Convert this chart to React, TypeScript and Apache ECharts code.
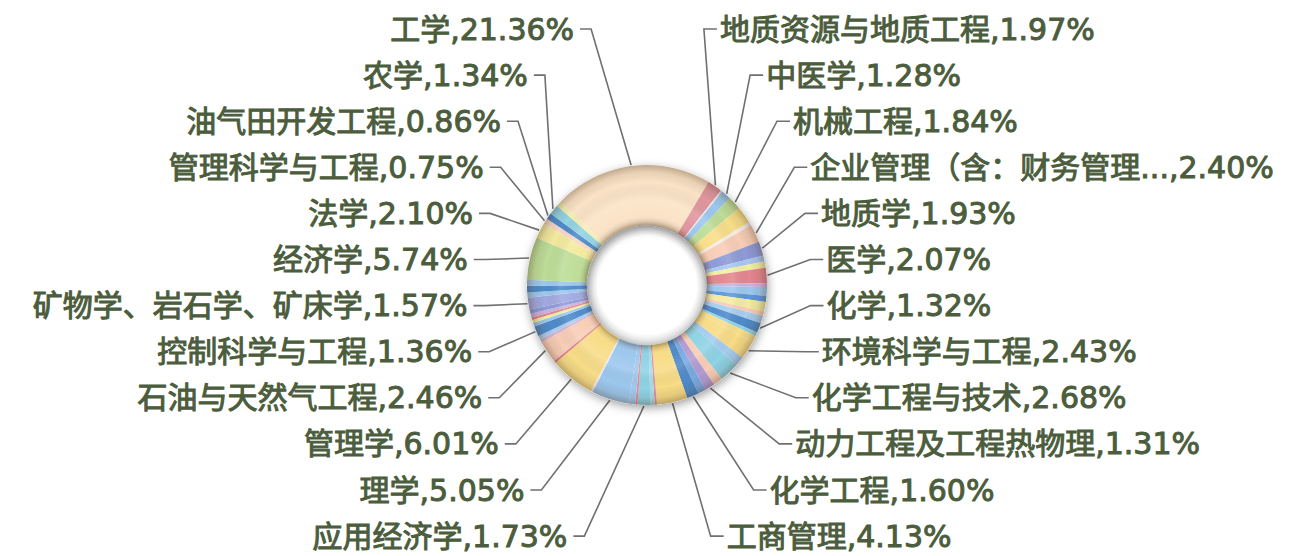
import React, { useEffect, useRef } from 'react';
import * as echarts from 'echarts';

// Slices in clockwise order, starting with 工学 at the upper left.
// Names starting with "其他" are small unlabeled slices.
const categories = [
  '工学', '地质资源与地质工程', '其他1', '中医学', '机械工程', '其他2', '其他3',
  '企业管理（含：财务管理、市场营销、人力资源管理）', '地质学', '其他4', '其他5', '医学',
  '其他6', '其他7', '其他8', '其他9', '其他10', '其他11', '化学', '其他12', '其他13',
  '环境科学与工程', '其他14', '化学工程与技术', '其他15', '动力工程及工程热物理', '其他16',
  '化学工程', '工商管理', '其他17', '其他18', '应用经济学', '其他19', '其他20', '理学',
  '其他21', '管理学', '其他22', '其他23', '石油与天然气工程', '其他24', '其他25',
  '控制科学与工程', '其他26', '其他27', '其他28', '其他29', '其他30', '矿物学、岩石学、矿床学',
  '其他31', '其他32', '其他33', '经济学', '法学', '管理科学与工程', '油气田开发工程', '农学', '其他34',
];

const values = [
  21.36, 1.97, 0.25, 1.28, 1.84, 2.30, 0.50,
  2.40, 1.93, 0.80, 0.84, 2.07,
  0.50, 1.20, 0.80, 1.30, 0.60, 1.00, 1.32, 0.50, 0.94,
  2.43, 1.25, 2.68, 1.28, 1.31, 1.08,
  1.60, 4.13, 0.30, 0.56, 1.73, 0.30, 0.87, 5.05,
  0.28, 6.01, 0.30, 0.56, 2.46, 0.40, 0.52,
  1.36, 0.50, 0.40, 0.36, 0.50, 0.60, 1.57,
  0.70, 0.90, 0.79, 5.74, 2.10, 0.75, 0.86, 1.34, 0.73,
];

const sliceColors = [
  '#FBE3C6', '#E0979E', '#EDE6EE', '#9DC8EE', '#BEDD98', '#F8DE8A', '#F5ECE6',
  '#F8CDB6', '#8E9BD8', '#A9C8F0', '#F2EFA2', '#E4878F',
  '#C9B3DE', '#9DC8EE', '#5E98D8', '#F3EBA2', '#F8CDB6', '#A9CEF0', '#4F8CCB', '#92D4E6', '#F8DE8A',
  '#F8DC86', '#A5CCEF', '#8FD3E5', '#F8CDB6', '#B39BD3', '#7AA9DF',
  '#4F8BC9', '#F8DC86', '#E58E98', '#A6DCEA', '#8FD3E5', '#E58E98', '#A1C9EE', '#9DC8EE',
  '#EFEAF0', '#F8DD88', '#E1808C', '#F8CDB6', '#F8CDB6', '#D6B2D4', '#A9CEF0',
  '#4F8CCB', '#9DC8EE', '#F2EFA2', '#E4878F', '#C9B3DE', '#8E9BD8', '#A2A9E0',
  '#9DC8EE', '#4F8CCB', '#9DC8EE', '#BEDD98', '#F3EA9E', '#F8D8C4', '#4F8CCB', '#93D3E2', '#F4EFB2',
];

const CX = 647;
const CY = 285;
const R_IN = 60;
const R_OUT = 120;
const START_ANGLE = 136; // echarts degrees (counter-clockwise from 3 o'clock)
const TEXT_COLOR = '#4B5D3C';
const FONT = "'DejaVu Sans', 'Noto Sans CJK SC', sans-serif";

const isLabeled = (name: string) => !name.startsWith('其他');
const shortName = (name: string) => (name.length > 11 ? name.slice(0, 11) + '...' : name);

export default function App() {
  const ref = useRef<HTMLDivElement>(null);

  useEffect(() => {
    if (!ref.current) return;
    const chart = echarts.init(ref.current, null, { renderer: 'svg' });

    const total = values.reduce((a, b) => a + b, 0);
    const startTheta = 90 - START_ANGLE; // clockwise from top
    let acc = 0;
    const mids = values.map((v) => {
      const m = startTheta + ((acc + v / 2) / total) * 360;
      acc += v;
      return ((m % 360) + 360) % 360;
    });

    const idx = categories.map((_, i) => i).filter((i) => isLabeled(categories[i]));
    const rightSide = idx.filter((i) => mids[i] < 180).sort((a, b) => mids[a] - mids[b]);
    const leftSide = idx.filter((i) => mids[i] >= 180).sort((a, b) => mids[b] - mids[a]);
    const place: Record<number, { side: number; row: number }> = {};
    rightSide.forEach((i, r) => (place[i] = { side: 1, row: r }));
    leftSide.forEach((i, r) => (place[i] = { side: -1, row: r }));

    const ROW0 = 29;
    const ROW_GAP = 46.1;
    const EA = 180;
    const EB = 280;

    const data = categories.map((name, i) => {
      const show = isLabeled(name);
      return {
        name,
        value: values[i],
        itemStyle: { color: sliceColors[i] },
        label: { show },
        labelLine: { show },
      };
    });

    const ringGradient = {
      type: 'radial', x: 0.5, y: 0.5, r: 0.5,
      colorStops: [
        { offset: 0.5, color: 'rgba(70,45,25,0.40)' },
        { offset: 0.53, color: 'rgba(70,45,25,0.16)' },
        { offset: 0.59, color: 'rgba(255,255,255,0)' },
        { offset: 0.72, color: 'rgba(255,255,255,0.12)' },
        { offset: 0.86, color: 'rgba(0,0,0,0)' },
        { offset: 0.94, color: 'rgba(70,45,25,0.10)' },
        { offset: 1, color: 'rgba(70,45,25,0.32)' },
      ],
    };

    const holeGradient = {
      type: 'radial', x: 0.5, y: 0.5, r: 0.5,
      colorStops: [
        { offset: 0.82, color: 'rgba(0,0,0,0)' },
        { offset: 1, color: 'rgba(0,0,0,0.15)' },
      ],
    };

    const plain = {
      type: 'pie',
      silent: true,
      center: [CX, CY],
      clockwise: true,
      startAngle: START_ANGLE,
      label: { show: false },
      labelLine: { show: false },
      emphasis: { disabled: true },
      animation: false,
    };

    chart.setOption({
      animation: false,
      backgroundColor: '#ffffff',
      series: [
        {
          ...plain,
          radius: [R_IN, R_OUT],
          data: [{ value: 1, itemStyle: { color: '#ffffff', shadowBlur: 10, shadowColor: 'rgba(0,0,0,0.38)', shadowOffsetX: 1, shadowOffsetY: 3 } }],
        },
        {
          type: 'pie',
          center: [CX, CY],
          radius: [R_IN, R_OUT],
          startAngle: START_ANGLE,
          clockwise: true,
          avoidLabelOverlap: false,
          minShowLabelAngle: 0,
          silent: true,
          emphasis: { disabled: true },
          data,
          label: {
            show: true,
            position: 'outside',
            formatter: (p: any) => `${shortName(p.name)},${p.percent.toFixed(2)}%`,
            color: TEXT_COLOR,
            fontSize: 30,
            fontFamily: FONT,
            textBorderColor: TEXT_COLOR,
            textBorderWidth: 1,
          },
          labelLine: {
            show: true,
            length: 10,
            length2: 10,
            lineStyle: { color: '#707070', width: 1.6 },
          },
          labelLayout: (p: any) => {
            const info = place[p.dataIndex];
            if (!info) return {};
            const y = ROW0 + ROW_GAP * info.row;
            const dy = y - CY;
            const e = EA * Math.sqrt(Math.max(0, 1 - (dy / EB) * (dy / EB)));
            const theta = (mids[p.dataIndex] * Math.PI) / 180;
            const sx = CX + (R_OUT + 1) * Math.sin(theta);
            const sy = CY - (R_OUT + 1) * Math.cos(theta);
            if (info.side > 0) {
              const x = CX + e;
              return {
                x, y, align: 'left', verticalAlign: 'middle',
                labelLinePoints: [[sx, sy], [x - 16, y], [x - 3, y]],
              };
            }
            const x = CX - e;
            return {
              x, y, align: 'right', verticalAlign: 'middle',
              labelLinePoints: [[sx, sy], [x + 17, y], [x + 6, y]],
            };
          },
        },
        {
          ...plain,
          radius: [R_IN, R_OUT],
          data: [{ value: 1, itemStyle: { color: ringGradient } }],
        },
        {
          ...plain,
          radius: [R_IN - 10, R_IN],
          data: [{ value: 1, itemStyle: { color: holeGradient } }],
        },
      ],
    });

    return () => chart.dispose();
  }, []);

  return (
    <div
      ref={ref}
      style={{ position: 'absolute', left: 0, top: 0, width: 1301, height: 556, background: '#fff' }}
    />
  );
}
